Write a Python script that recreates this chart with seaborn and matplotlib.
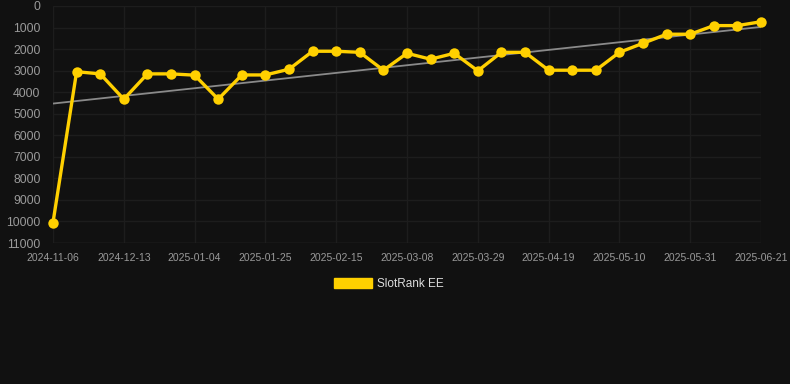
import numpy as np
import pandas as pd
import matplotlib
matplotlib.use('Agg')
import matplotlib.pyplot as plt
import matplotlib.patches as mpatches
import seaborn as sns

# weekly rank readings (lower = better), x is a category axis
dates = ['2024-11-06', '2024-11-29', '2024-12-06', '2024-12-13', '2024-12-20', '2024-12-28',
         '2025-01-04', '2025-01-11', '2025-01-18', '2025-01-25', '2025-02-01', '2025-02-08',
         '2025-02-15', '2025-02-22', '2025-03-01', '2025-03-08', '2025-03-15', '2025-03-22',
         '2025-03-29', '2025-04-05', '2025-04-12', '2025-04-19', '2025-04-26', '2025-05-03',
         '2025-05-10', '2025-05-17', '2025-05-24', '2025-05-31', '2025-06-07', '2025-06-14',
         '2025-06-21']
ranks = [10050, 3050, 3150, 4325, 3150, 3150, 3210, 4325, 3200, 3200, 2935, 2100,
         2100, 2150, 2980, 2195, 2470, 2195, 3010, 2150, 2150, 2980, 2980, 2980,
         2150, 1730, 1310, 1310, 910, 910, 730]
series_name = 'SlotRank EE'

bg = '#111111'
gold = '#FFD000'
grid_c = '#1d1d1d'

sns.set_theme(style='dark')
plt.rcParams['font.family'] = ['Liberation Sans', 'DejaVu Sans']

df = pd.DataFrame({'date': dates, 'rank': ranks})

fig = plt.figure(figsize=(7.9, 3.84), dpi=100, facecolor=bg)
ax = fig.add_axes([53/790, 1-243/384, (761-53)/790, (243-6)/384])
ax.set_facecolor(bg)

# trend line (least squares on the points)
xi = np.arange(len(ranks))
k, b = np.polyfit(xi, ranks, 1)
ax.plot(xi, k*xi + b, color='#8a8a8a', lw=1.3, zorder=2)

sns.lineplot(data=df, x='date', y='rank', ax=ax, color=gold, lw=2.4,
             marker='o', markersize=7.5, markeredgewidth=0, sort=False,
             clip_on=False, zorder=3, legend=False)

ax.set_xlim(0, len(ranks)-1)
ax.set_ylim(11000, 0)
ax.set_yticks(range(0, 11001, 1000))
ax.set_xticks(xi[::3])
ax.set_xticklabels(dates[::3])
ax.set_xlabel('')
ax.set_ylabel('')

for s in ax.spines.values():
    s.set_visible(False)
ax.grid(True, color=grid_c, lw=1)
ax.axhline(11000, color='#282828', lw=1, zorder=1)
ax.tick_params(axis='y', length=0, pad=9, labelsize=8.8, labelcolor='#9a9a9a')
ax.tick_params(axis='x', length=5, color='#282828', pad=2, labelsize=7.5, labelcolor='#9a9a9a')

handle = mpatches.Patch(color=gold, label=series_name)
leg = fig.legend(handles=[handle], loc='center', bbox_to_anchor=(389/790, 1-284/384),
                 frameon=False, fontsize=8.5, handlelength=3.2, handleheight=1.0,
                 handletextpad=0.5)
for t in leg.get_texts():
    t.set_color('#dddddd')

fig.savefig('out.png', dpi=100, facecolor=bg)
